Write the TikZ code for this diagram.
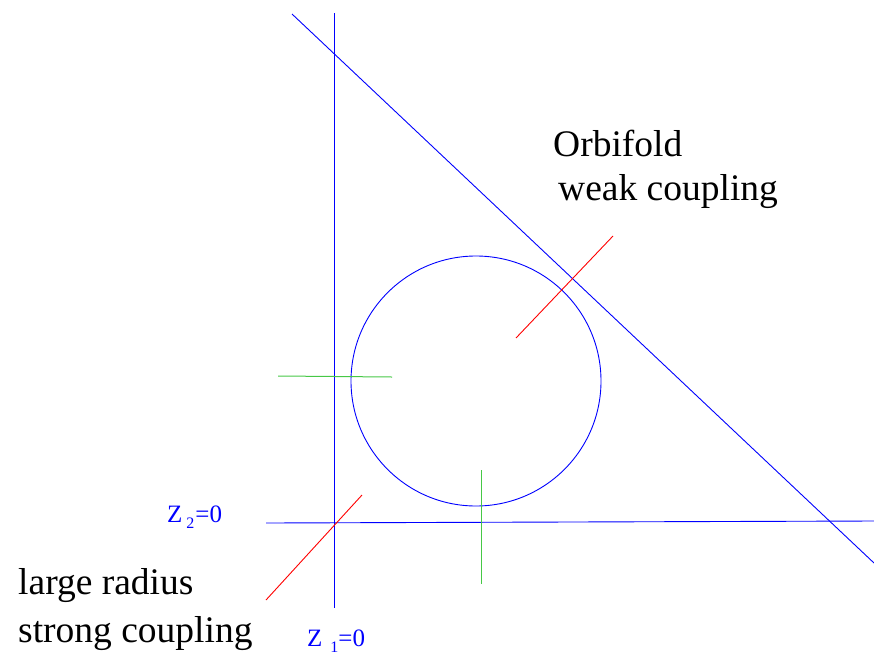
\documentclass[tikz,border=0pt]{standalone}
\usepackage{fontspec}
\setmainfont{Liberation Serif}
\definecolor{lgreen}{RGB}{70,200,70}
\tikzset{
  axis/.style={blue, line width=0.9pt},
  redline/.style={red, line width=0.9pt},
  greenline/.style={lgreen, line width=1pt},
  bigtext/.style={font=\fontsize{37.5}{40}\selectfont, anchor=base west, inner sep=0pt},
  zlabel/.style={font=\fontsize{25}{27}\selectfont, text=blue, anchor=base west, inner sep=0pt}
}
\begin{document}
\begin{tikzpicture}[x=1pt,y=-1pt]
\useasboundingbox (0,0) rectangle (874,656);
% axes
\coordinate (vtop) at (334,13);
\coordinate (vbot) at (334,608);
\coordinate (hleft) at (266,523);
\coordinate (hright) at (874,521);
\coordinate (dtop) at (292,14);
\coordinate (dbot) at (874,563);
\draw[axis] (vtop) -- (vbot);
\draw[axis] (hleft) -- (hright);
\draw[axis] (dtop) -- (dbot);
% circle
\coordinate (c) at (476,381);
\draw[axis] (c) circle[radius=125];
% red lines
\coordinate (r1a) at (516,338);
\coordinate (r1b) at (613,236);
\coordinate (r2a) at (266,600);
\coordinate (r2b) at (362,495);
\draw[redline] (r1a) -- (r1b);
\draw[redline] (r2a) -- (r2b);
% green lines
\coordinate (g1a) at (278,376);
\coordinate (g1b) at (392,377);
\coordinate (g2a) at (481,470);
\coordinate (g2b) at (481,584);
\draw[greenline] (g1a) -- (g1b);
\draw[greenline] (g2a) -- (g2b);
% texts
\node[bigtext] (orb) at (553,156) {Orbifold};
\node[bigtext] (weak) at (558,200) {weak coupling};
\node[bigtext] (large) at (18,594) {large radius};
\node[bigtext] (strong) at (18,642) {strong coupling};
\node[zlabel] (z2) at (167,522) {Z\hspace{4pt}\raisebox{-6pt}{\fontsize{16}{16}\selectfont 2}\hspace{1pt}=0};
\node[zlabel] (z1) at (307,646) {Z\hspace{8pt}\raisebox{-6pt}{\fontsize{16}{16}\selectfont 1}=0};
\end{tikzpicture}
\end{document}
